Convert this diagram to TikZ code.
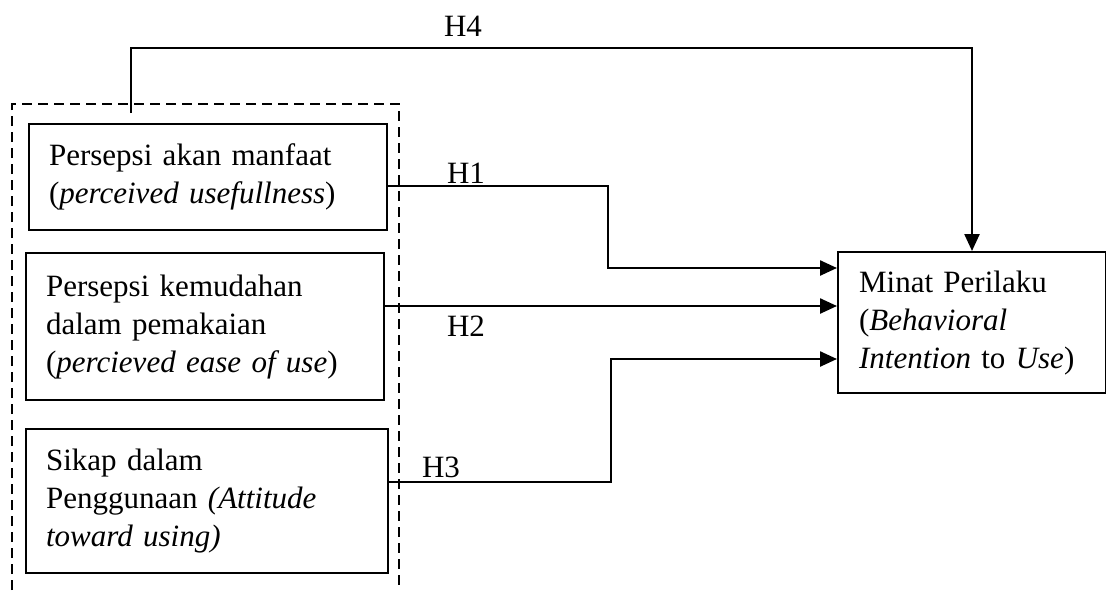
\documentclass[tikz,border=0pt]{standalone}
\usepackage{fontspec}
\setmainfont{Liberation Serif}
\usetikzlibrary{arrows.meta,calc}
\begin{document}
\begin{tikzpicture}[x=1pt,y=-1pt,
  every node/.style={font=\fontsize{31}{38}\selectfont},
  varbox/.style={draw,line width=2.2pt,anchor=north west,align=left,inner xsep=20pt,inner ysep=0pt},
  conn/.style={line width=2.4pt,-{Triangle[length=17pt,width=15pt]}},
  lbl/.style={inner sep=0pt}]
\useasboundingbox (0,0) rectangle (1106,590);
% dashed group
\draw[line width=2.4pt,dash pattern=on 10pt off 6pt] (12,590) -- (12,104) -- (399,104) -- (399,590);
% boxes
\node[varbox,minimum width=358pt,minimum height=106pt,text width=318pt] (b1) at (28,123)
  {Persepsi akan manfaat\\(\textit{perceived usefullness})};
\node[varbox,minimum width=358pt,minimum height=147pt,text width=318pt] (b2) at (25,252)
  {Persepsi kemudahan\\dalam pemakaian\\(\textit{percieved ease of use})};
\node[varbox,minimum width=362pt,minimum height=144pt,text width=322pt] (b3) at (25,428)
  {Sikap dalam\\Penggunaan \textit{(Attitude}\\\textit{toward using)}};
\node[varbox,minimum width=267pt,minimum height=141pt,text width=226pt,inner xsep=21pt] (tgt) at (837,251)
  {Minat Perilaku\\(\textit{Behavioral}\\\textit{Intention} to \textit{Use})};
% connectors
\coordinate (h4s) at (131,113);
\coordinate (h4c) at (972,48);
\draw[conn] (h4s) |- (h4c) -- (h4c |- tgt.north);
\draw[conn] (b1.east |- 0,186) -- (608,186) |- (tgt.west |- 0,268);
\draw[conn] (b2.east |- 0,306) -- (tgt.west |- 0,306);
\draw[conn] (b3.east |- 0,482) -- (611,482) |- (tgt.west |- 0,359);
% labels
\node[lbl] (l1) at (466,173) {H1};
\node[lbl] (l2) at (466,326) {H2};
\node[lbl] (l3) at (441,467) {H3};
\node[lbl] (l4) at (463,26) {H4};
\end{tikzpicture}
\end{document}
